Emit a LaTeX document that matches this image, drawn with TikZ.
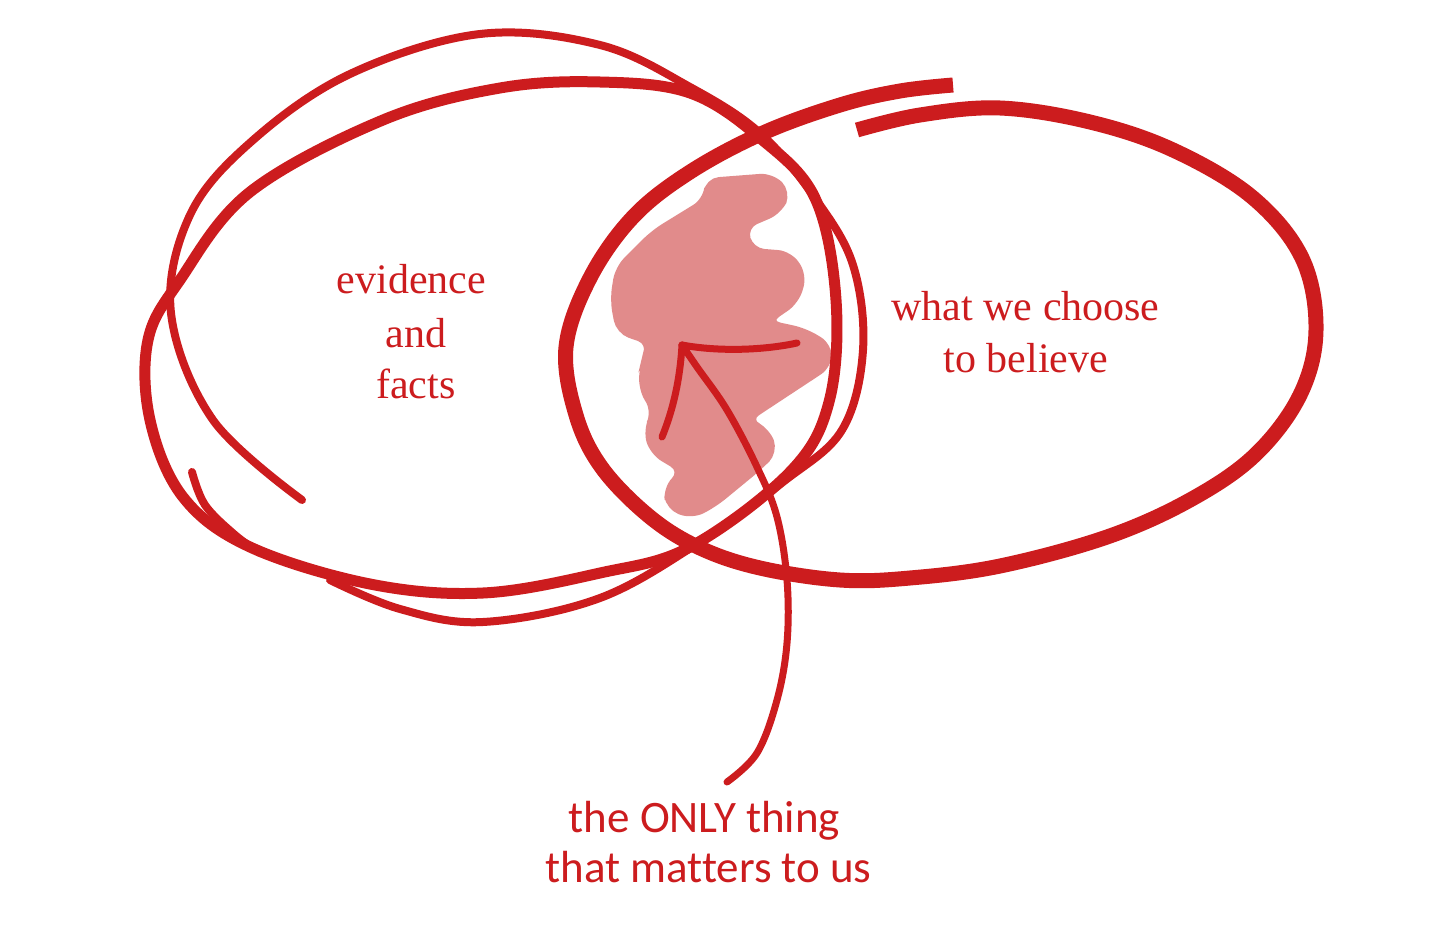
\documentclass[tikz,border=0pt]{standalone}
\usepackage{fontspec}
\newfontfamily\labelserif{Liberation Serif}
\newfontfamily\labelsans[Ligatures=NoCommon]{Carlito}
\definecolor{inkred}{RGB}{204,28,30}
\definecolor{blobpink}{RGB}{225,139,139}
\tikzset{
  thinloop/.style={draw=inkred, line width=8pt, line cap=round, line join=round},
  thickloop/.style={draw=inkred, line width=11pt, line cap=round, line join=round},
  brushloop/.style={draw=inkred, line width=15pt, line cap=butt, line join=round},
  arrowline/.style={draw=inkred, line width=7pt, line cap=round, line join=round},
  blobfill/.style={fill=blobpink, draw=blobpink, line width=4pt, rounded corners=12pt},
  seriflabel/.style={text=inkred, inner sep=0pt, anchor=base, font=\labelserif\fontsize{42pt}{52pt}\selectfont},
  sanslabel/.style={text=inkred, inner sep=0pt, anchor=base, font=\labelsans\fontsize{45pt}{50pt}\selectfont}
}
\begin{document}
\begin{tikzpicture}[x=1pt,y=-1pt]
\useasboundingbox[fill=white] (0,0) rectangle (1456,939);

% pink scribble
\path[blobfill] (707,180) -- (772,175) -- (789,192) -- (780,212) -- (745,227) -- (752,250)
  -- (790,253) -- (805,275) -- (797,302) -- (768,322) -- (805,330) -- (830,345) -- (830,366)
  -- (748,420) -- (768,430) -- (776,452) -- (760,468) -- (715,505) -- (692,517) -- (668,508)
  -- (665,488) -- (682,471) -- (652,453) -- (645,430) -- (654,412) -- (640,388) -- (643,358)
  -- (650,343) -- (618,332) -- (612,300) -- (617,268) -- (653,232) -- (705,200) -- cycle;

% right ellipse (brush)
\draw[brushloop] plot[smooth, tension=0.6] coordinates {
  (953,85) (900,91) (840,105) (763,133) (690,172) (633,217) (590,278) (566,347)
  (576,415) (602,468) (650,517) (700,548) (760,568) (840,580) (910,578) (1000,566)
  (1107,537) (1190,500) (1255,455) (1300,395) (1316,330) (1302,258) (1252,197)
  (1173,150) (1090,122) (1000,108) (920,115) (857,130)};

% left loop: thin stroke
\draw[thinloop] plot[smooth, tension=0.6] coordinates {
  (302,500) (213,420) (171,313) (190,215) (252,141) (350,74) (480,34) (600,45)
  (690,87) (760,133) (815,198) (853,265) (863,350) (842,430) (783,482) (703,540)
  (600,598) (483,622) (400,609) (330,580)};

% left loop: thick stroke
\draw[thickloop] plot[smooth cycle, tension=0.6] coordinates {
  (815,198) (836,300) (829,402) (790,472) (690,547) (600,573) (483,593) (370,584)
  (250,547) (183,497) (150,420) (148,340) (180,280) (250,192) (383,120) (500,88)
  (600,82) (690,93) (760,138)};

% short stroke at lower left
\draw[thinloop] plot[smooth, tension=0.6] coordinates {(192,472) (205,505) (235,535) (260,553)};

% arrow
\coordinate (arrowtail) at (727,782);
\coordinate (arrowtip) at (682,345);
\coordinate (barbright) at (797,343);
\coordinate (barbdown) at (662,437);
\draw[arrowline] plot[smooth, tension=0.6] coordinates {
  (arrowtail) (757,753) (777,700) (787,643) (787,580) (777,517) (757,467) (727,410) (697,367) (arrowtip)};
\draw[arrowline] (arrowtip) .. controls (720,352) and (765,350) .. (barbright);
\draw[arrowline] (arrowtip) .. controls (680,380) and (673,410) .. (barbdown);

% labels
\node[seriflabel] (ev1) at (411.5,293) {evidence};
\node[seriflabel] (ev2) at (416,347) {and};
\node[seriflabel] (ev3) at (416,398) {facts};
\node[seriflabel] (wb1) at (1025.5,320) {what we choose};
\node[seriflabel] (wb2) at (1026,372) {to believe};
\node[sanslabel] (om1) at (704.5,832) {the ONLY thing};
\node[sanslabel] (om2) at (708.5,882) {that matters to us};
\end{tikzpicture}
\end{document}
